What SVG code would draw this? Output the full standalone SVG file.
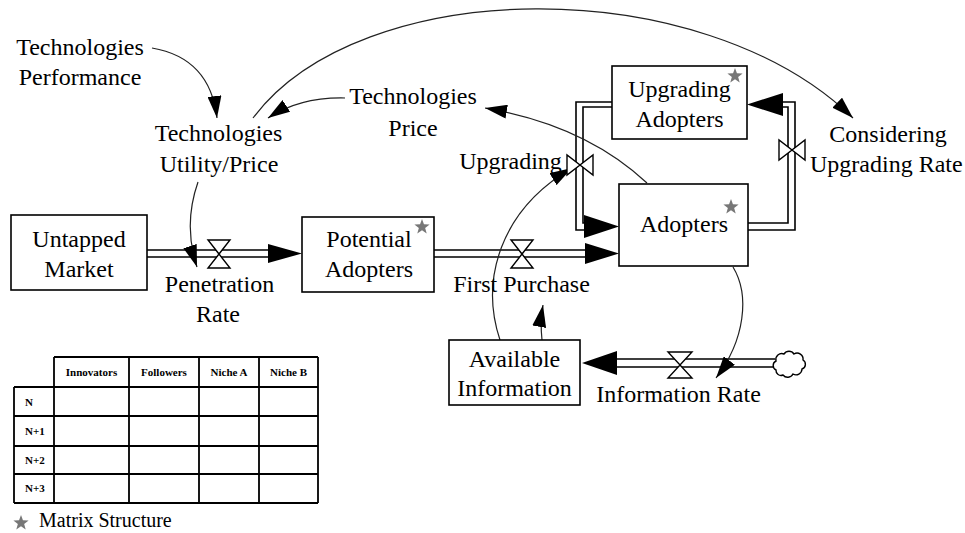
<svg xmlns="http://www.w3.org/2000/svg" width="965" height="533" viewBox="0 0 965 533" font-family="'Liberation Serif', 'DejaVu Serif', serif">
<defs>
<style>
text{font-family:'Liberation Serif','DejaVu Serif',serif;fill:#000}
.lbl{font-size:24px;text-anchor:middle}
.box{fill:#fff;stroke:#000;stroke-width:1.6}
.pipe{fill:none;stroke:#000;stroke-width:1.6}
.head{fill:#000;stroke:none}
.valve{fill:#fff;stroke:#000;stroke-width:1.4}
.link{fill:none;stroke:#222;stroke-width:1.2;marker-end:url(#arr)}
.star{fill:#777}
.tbl{fill:none;stroke:#000;stroke-width:1.8}
.th{font-size:11px;font-weight:bold;text-anchor:middle}
.rh{font-size:11px;font-weight:bold}
</style>
<marker id="arr" markerUnits="userSpaceOnUse" markerWidth="22" markerHeight="14" refX="22" refY="7" orient="auto">
<path d="M0,0 L22,7 L0,14 z" fill="#000"/>
</marker>
<path id="star" d="M0,-8 L1.94,-2.68 L7.61,-2.47 L3.15,1.02 L4.70,6.47 L0,3.3 L-4.70,6.47 L-3.15,1.02 L-7.61,-2.47 L-1.94,-2.68 z"/>
</defs>
<rect width="965" height="533" fill="#fff"/>

<g id="connectors">
<path class="pipe" d="M147,250 H268 M147,257 H268"/>
<polygon class="head" points="268,244 302,253.5 268,263"/>
<path class="pipe" d="M434,250 H585 M434,257 H585"/>
<polygon class="head" points="585,243 619,253.5 585,264"/>
<path class="pipe" d="M612,102 H576 V230 H585 M612,107 H583 V223 H585"/>
<polygon class="head" points="584,215 619,226.5 584,238"/>
<path class="pipe" d="M748,230 H795 V102 H783 M748,223 H788 V107 H783"/>
<polygon class="head" points="783,93 747,104.5 783,116"/>
<path class="pipe" d="M775,359 H617 M775,367 H617"/>
<polygon class="head" points="617,351 582,363 617,375"/>
<path class="link" d="M152,48 Q210,58 217,118"/>
<path class="link" d="M253,118 C360,-25 700,-30 853,118"/>
<path class="link" d="M345,98 Q300,97 268,118"/>
<path class="link" d="M647,183 Q585,125 485,108"/>
<path class="link" d="M198,182 Q183,225 197,267"/>
<path class="link" d="M542,340 Q540,322 543,305"/>
<path class="link" d="M500,340 C480,280 500,210 572,168"/>
<path class="link" d="M733,267 C750,295 745,340 716,378"/>
</g>

<g id="valve-penetration">
<path class="valve" d="M208,240 H230 L219,254 Z M208,268 H230 L219,254 Z"/>
</g>
<g id="valve-first-purchase">
<path class="valve" d="M511,240 H533 L522,254 Z M511,268 H533 L522,254 Z"/>
</g>
<g id="valve-upgrading">
<path class="valve" d="M567,155 V175 L580,165 Z M593,155 V175 L580,165 Z"/>
</g>
<g id="valve-considering">
<path class="valve" d="M779,140 V160 L792,150 Z M805,140 V160 L792,150 Z"/>
</g>
<g id="valve-information">
<path class="valve" d="M668,352 H692 L680,365 Z M668,378 H692 L680,365 Z"/>
</g>
<g id="cloud">
<path fill="#fff" stroke="#000" stroke-width="1.4" d="M776,370 a5,5 0 0 1 0,-9 a6,6 0 0 1 8,-7 a6,6 0 0 1 10,0 a6,6 0 0 1 9,6 a5,5 0 0 1 -1,9 a6,6 0 0 1 -9,5 a6,6 0 0 1 -10,1 a5,5 0 0 1 -7,-5 z"/>
</g>

<g id="untapped-market">
<rect class="box" x="11" y="215" width="136" height="75"/>
<text class="lbl" x="79" y="247">Untapped</text>
<text class="lbl" x="79" y="277">Market</text>
</g>
<g id="potential-adopters">
<rect class="box" x="302" y="217" width="132" height="75"/>
<text class="lbl" x="369" y="247">Potential</text>
<text class="lbl" x="369" y="277">Adopters</text>
<use href="#star" class="star" x="422" y="227"/>
</g>
<g id="adopters">
<rect class="box" x="619" y="184" width="129" height="82"/>
<text class="lbl" x="684" y="232">Adopters</text>
<use href="#star" class="star" x="731" y="207"/>
</g>
<g id="upgrading-adopters">
<rect class="box" x="612" y="66" width="135" height="73"/>
<text class="lbl" x="679.5" y="97">Upgrading</text>
<text class="lbl" x="679.5" y="127">Adopters</text>
<use href="#star" class="star" x="735" y="76"/>
</g>
<g id="available-information">
<rect class="box" x="449" y="340" width="131" height="65"/>
<text class="lbl" x="514.5" y="367">Available</text>
<text class="lbl" x="514.5" y="396">Information</text>
</g>

<g id="technologies-performance">
<text class="lbl" x="80" y="55">Technologies</text>
<text class="lbl" x="80" y="85">Performance</text>
</g>
<g id="technologies-utility-price">
<text class="lbl" x="218.5" y="141">Technologies</text>
<text class="lbl" x="219" y="172">Utility/Price</text>
</g>
<g id="technologies-price">
<text class="lbl" x="413" y="104">Technologies</text>
<text class="lbl" x="413" y="136">Price</text>
</g>
<g id="considering-upgrading-rate">
<text class="lbl" x="888" y="142">Considering</text>
<text x="810" y="172" font-size="24">Upgrading Rate</text>
</g>
<g id="upgrading-label">
<text class="lbl" x="510.5" y="169">Upgrading</text>
</g>
<g id="penetration-rate-label">
<text class="lbl" x="219.5" y="292">Penetration</text>
<text class="lbl" x="218" y="322">Rate</text>
</g>
<g id="first-purchase-label">
<text class="lbl" x="521.5" y="292">First Purchase</text>
</g>
<g id="information-rate-label">
<text class="lbl" x="678.5" y="402">Information Rate</text>
</g>

<g id="matrix-table">
<path class="tbl" d="M54,357 H318 M14,387 H318 M14,416 H318 M14,446 H318 M14,474 H318 M14,503 H318 M14,387 V503 M54,357 V503 M129,357 V503 M199,357 V503 M259,357 V503 M318,357 V503"/>
<text class="th" x="91.5" y="376">Innovators</text>
<text class="th" x="164" y="376">Followers</text>
<text class="th" x="229" y="376">Niche A</text>
<text class="th" x="288.5" y="376">Niche B</text>
<text class="rh" x="25" y="405.5">N</text>
<text class="rh" x="25" y="434.5">N+1</text>
<text class="rh" x="25" y="463.5">N+2</text>
<text class="rh" x="25" y="492">N+3</text>
</g>
<g id="legend">
<use href="#star" class="star" x="21" y="523"/>
<text x="39" y="527" font-size="20">Matrix Structure</text>
</g>
</svg>
